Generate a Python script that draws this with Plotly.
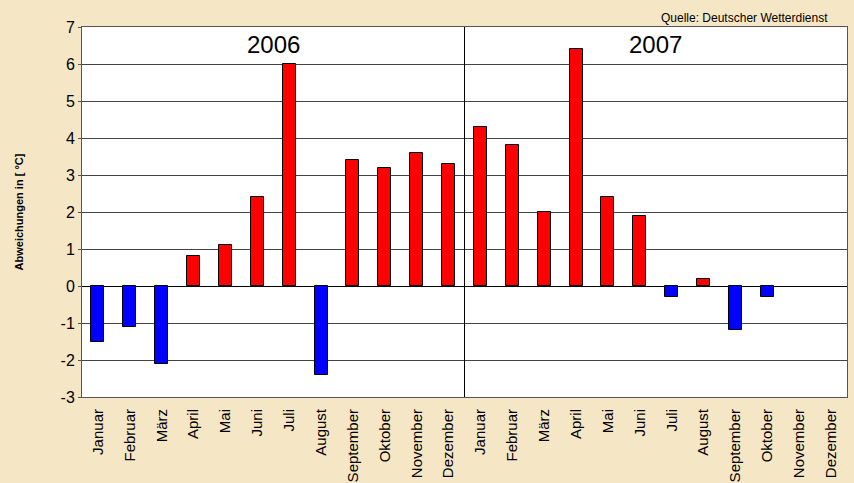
import plotly.graph_objects as go

months = ["Januar", "Februar", "März", "April", "Mai", "Juni", "Juli", "August",
          "September", "Oktober", "November", "Dezember"]
years = ["2006", "2007"]
values_2006 = [-1.5, -1.1, -2.1, 0.8, 1.1, 2.4, 6.0, -2.4, 3.4, 3.2, 3.6, 3.3]
values_2007 = [4.3, 3.8, 2.0, 6.4, 2.4, 1.9, -0.3, 0.2, -1.2, -0.3, None, None]
y_ticks = [-3, -2, -1, 0, 1, 2, 3, 4, 5, 6, 7]
y_ticktext = [str(t) for t in y_ticks]

labels = months + months
values = values_2006 + values_2007
xs = list(range(len(values)))
colors = ["#0000FF" if (v is not None and v < 0) else "#FF0000" for v in values]

fig = go.Figure()
fig.add_trace(go.Bar(
    x=xs, y=values, width=0.41,
    marker=dict(color=colors, line=dict(color="#000000", width=1)),
    showlegend=False,
))

fig.add_shape(type="line", xref="x", yref="paper", x0=11.5, x1=11.5, y0=0, y1=1,
              line=dict(color="#000000", width=1))

fig.add_annotation(x=5.5, y=6.95, xref="x", yref="y", text=years[0], showarrow=False,
                   font=dict(size=24, color="#000000", family="Arial, Liberation Sans"), yanchor="top")
fig.add_annotation(x=17.5, y=6.95, xref="x", yref="y", text=years[1], showarrow=False,
                   font=dict(size=24, color="#000000", family="Arial, Liberation Sans"), yanchor="top")
fig.add_annotation(x=(830 - 82) / (854 - 82 - 7), y=1 + (27 - 18) / (483 - 27 - 86),
                   xref="paper", yref="paper", text="Quelle: Deutscher Wetterdienst",
                   showarrow=False, xanchor="right", yanchor="middle",
                   font=dict(size=12, color="#000000", family="Liberation Sans, Arial"))

fig.update_layout(
    width=854, height=483,
    margin=dict(l=82, r=7, t=27, b=86),
    paper_bgcolor="#F5E6C6",
    plot_bgcolor="#FFFFFF",
    bargap=0,
    font=dict(family="Liberation Sans, Arial", color="#000000"),
)
fig.update_xaxes(
    range=[-0.5, 23.5], tickmode="array", tickvals=xs, ticktext=labels,
    tickangle=-90, showgrid=False, zeroline=False, automargin=False,
    tickfont=dict(size=15, family="Liberation Sans Narrow, Arial Narrow, Liberation Sans"),
    showline=True, linecolor="#555555", linewidth=1, mirror=True,
    ticks="outside", ticklen=5, tickcolor="rgba(0,0,0,0)",
)
fig.update_yaxes(
    range=[-3, 7], tickmode="array", tickvals=y_ticks, ticktext=y_ticktext,
    showgrid=True, gridcolor="#444444", gridwidth=1, automargin=False,
    zeroline=True, zerolinecolor="#000000", zerolinewidth=1,
    tickfont=dict(size=16, family="Liberation Sans, Arial"),
    showline=True, linecolor="#555555", linewidth=1, mirror=True,
    ticks="outside", ticklen=3, tickcolor="#555555",
    title=dict(text="<b>Abweichungen in [ °C]</b>",
               font=dict(size=11, family="Liberation Sans, Arial"), standoff=34),
)

fig.write_html("out.html")
